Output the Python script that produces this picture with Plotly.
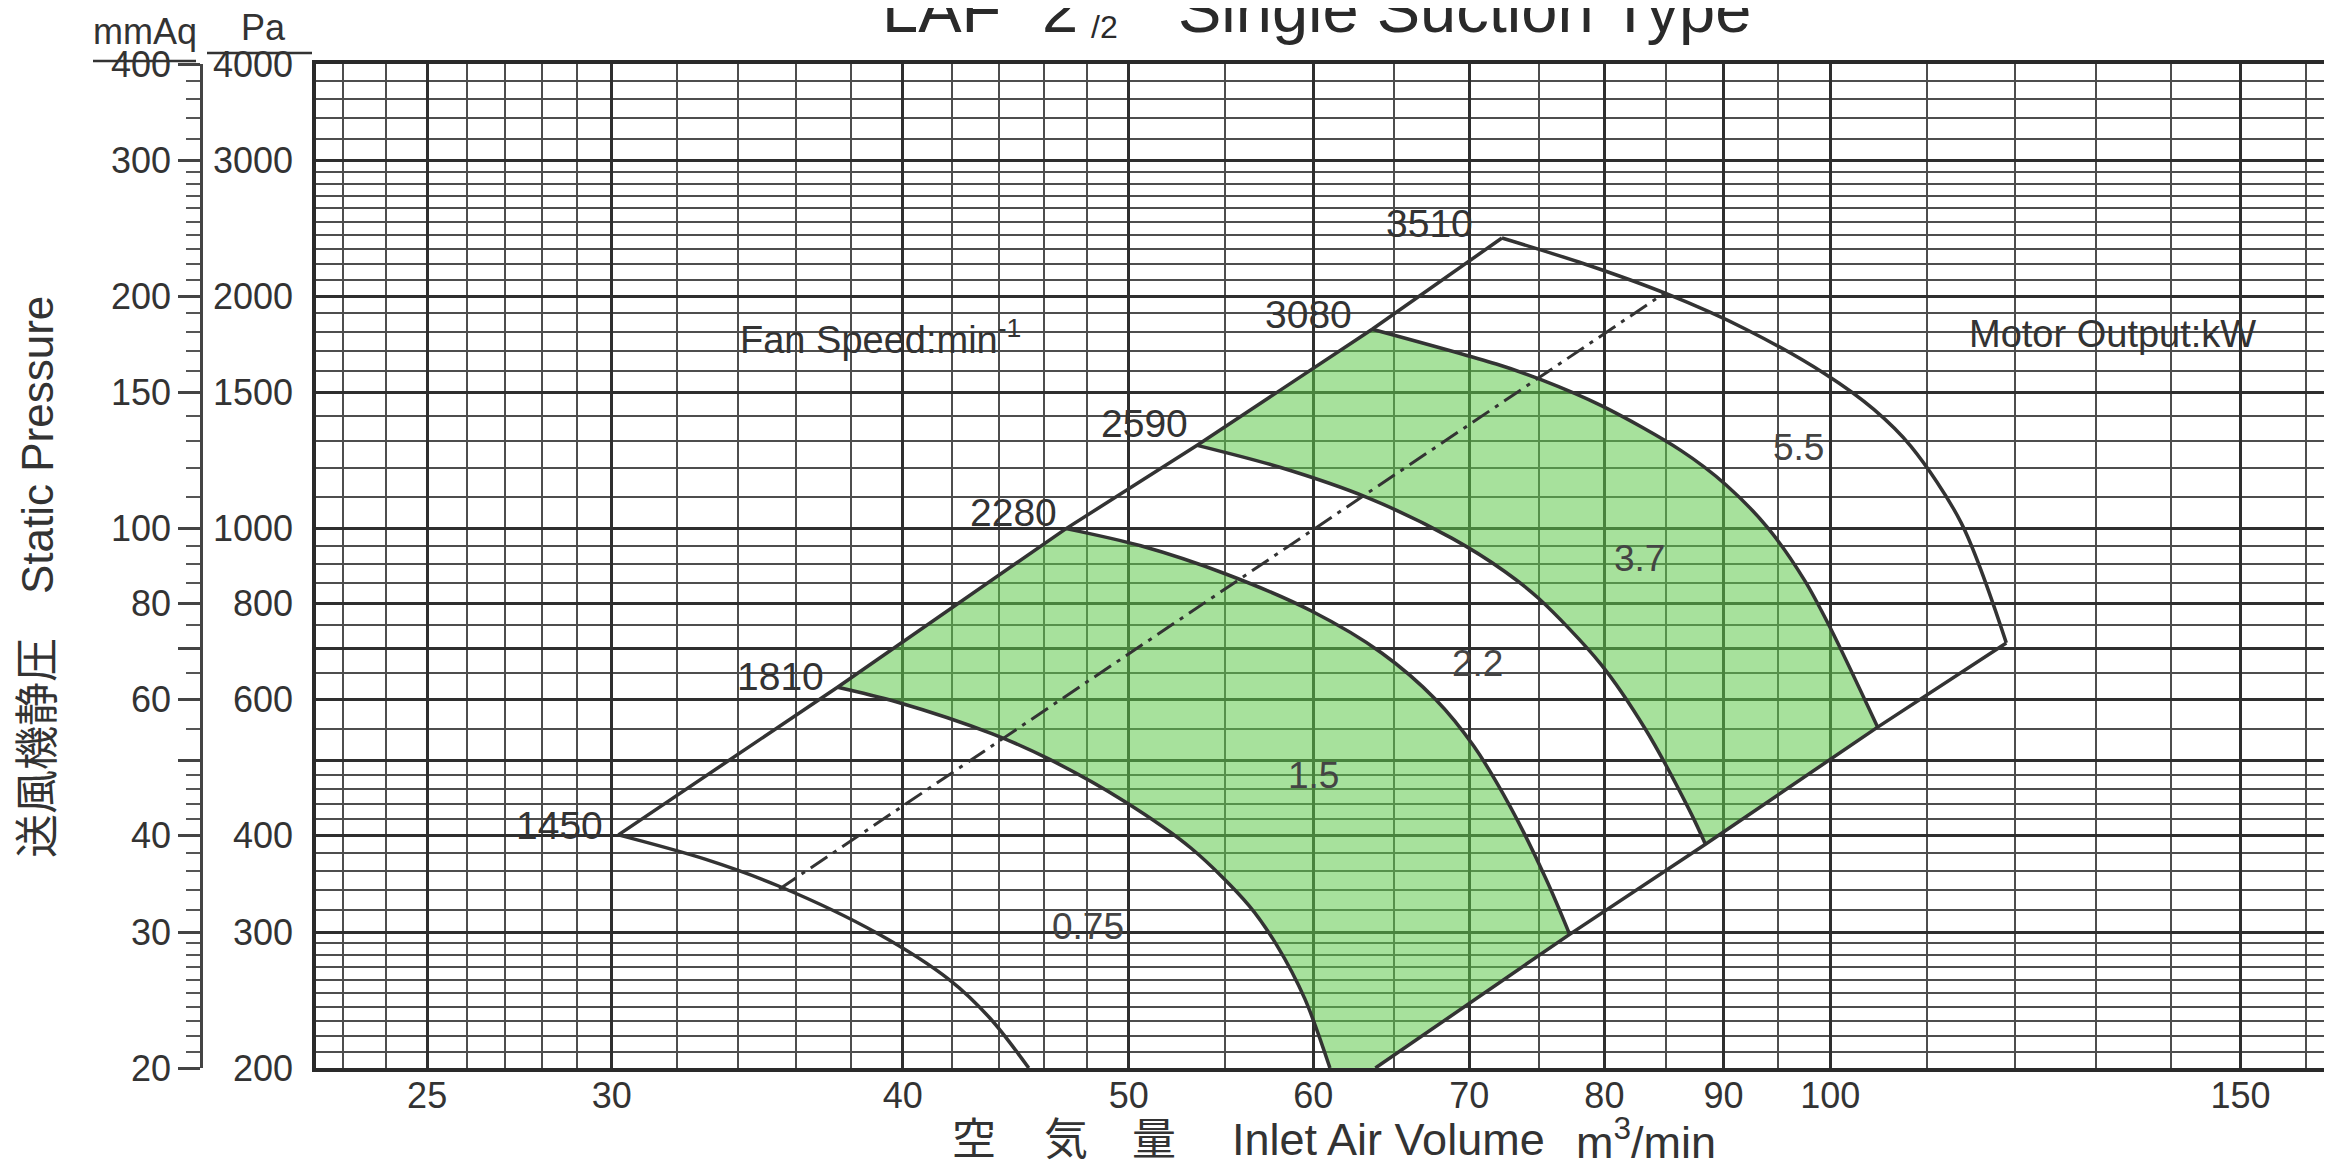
import math
import plotly.graph_objects as go

W, H = 2332, 1176

# ---------------- data ----------------
x_tick_vals = [25, 30, 40, 50, 60, 70, 80, 90, 100, 150]
x_tick_text = ["25", "30", "40", "50", "60", "70", "80", "90", "100", "150"]
x_minor_vals = [23, 24, 26, 27, 28, 29, 32, 34, 36, 38, 42, 44, 46, 48,
                55, 65, 75, 85, 95, 110, 120, 130, 140, 160]

pa_tick_vals = [200, 300, 400, 500, 600, 700, 800, 1000, 1500, 2000, 3000, 4000]
pa_tick_text = ["200", "300", "400", "", "600", "", "800", "1000", "1500", "2000", "3000", "4000"]
pa_minor_vals = [210, 220, 230, 240, 250, 260, 270, 280, 290, 320, 340, 360, 380,
                 420, 440, 460, 480, 550, 650, 750, 850, 900, 950,
                 1100, 1200, 1300, 1400, 1600, 1700, 1800, 1900,
                 2100, 2200, 2300, 2400, 2500, 2600, 2700, 2800, 2900,
                 3200, 3400, 3600, 3800]

mmaq_tick_vals = [20, 30, 40, 50, 60, 70, 80, 100, 150, 200, 300, 400]
mmaq_tick_text = ["20", "30", "40", "", "60", "", "80", "100", "150", "200", "300", "400"]
mmaq_minor_vals = [21, 22, 23, 24, 25, 26, 27, 28, 29, 32, 34, 36, 38,
                   42, 44, 46, 48, 55, 65, 75, 85, 90, 95,
                   110, 120, 130, 140, 160, 170, 180, 190,
                   210, 220, 230, 240, 250, 260, 270, 280, 290,
                   320, 340, 360, 380]

x_range_vals = [22.4, 164.5]
pa_range_vals = [200, 4000]
mmaq_range_vals = [20, 400]

fan_speeds = ["1450", "1810", "2280", "2590", "3080", "3510"]

q_1450 = [30.2, 32.9, 35.4, 39.0, 41.9, 43.6, 45.3]
p_1450 = [401, 373, 344, 299, 260, 232, 200]

q_1810 = [37.5, 39.7, 43.7, 46.2, 49.8, 53.2, 56.3, 57.9, 59.5, 61.0]
p_1810 = [623, 597, 542, 503, 443, 385, 325, 288, 246, 200]

q_2280 = [47.0, 50.6, 55.0, 59.9, 64.2, 67.7, 70.3, 72.9, 75.5, 77.3]
p_2280 = [1000, 950, 874, 782, 690, 601, 523, 436, 352, 298]

q_2590 = [53.5, 58.1, 63.3, 68.8, 72.5, 75.0, 79.7, 83.3, 87.0, 88.4]
p_2590 = [1282, 1200, 1097, 972, 880, 811, 668, 550, 432, 390]

q_3080 = [63.6, 71.9, 75.0, 79.8, 86.3, 90.2, 94.0, 97.5, 100.0, 104.8]
p_3080 = [1813, 1634, 1563, 1442, 1262, 1140, 1003, 857, 744, 553]

q_3510 = [72.3, 78.4, 85.0, 92.0, 99.5, 104.4, 108.3, 113.8, 119.0]
p_3510 = [2380, 2204, 2017, 1813, 1586, 1427, 1278, 1018, 711]

lower_start_q = [63.8]
lower_start_p = [200]

system_q = [35.4, 85.0]
system_p = [341, 2024]

motor_outputs = ["0.75", "1.5", "2.2", "3.7", "5.5"]

# ---------------- layout / style ----------------
curves_q = [q_1450, q_1810, q_2280, q_2590, q_3080, q_3510]
curves_p = [p_1450, p_1810, p_2280, p_2590, p_3080, p_3510]

motor_label_pos = [(48.3, 298), (60.4, 468), (71.0, 652), (83.3, 892), (97.5, 1243)]
speed_label_shift = [(-15, 1), (-14, 3), (-9, 8), (-9, 14), (-20, 7), (-29, 7)]

FONT = "Liberation Sans, Arial, Noto Sans CJK JP, sans-serif"
INK = "#333333"
GRID_MAJOR = "#2e2e2e"
GRID_MINOR = "#4d4d4d"
GREEN = "rgba(95,200,75,0.55)"
LINE_W = 3.5

plot_left, plot_right, plot_top, plot_bottom = 308, 2326, 56, 1060


def px(xp):
    return xp / W


def py(yp):
    return 1 - yp / H


def vy(center_px, size):
    # plotly draws text ~0.2em below the anchor; compensate
    return py(center_px - 0.2 * size)


fig = go.Figure()

# green regions (1.5 kW and 3.7 kW bands)
reg_a_q = [q_1810[0]] + q_2280 + lower_start_q + q_1810[::-1]
reg_a_p = [p_1810[0]] + p_2280 + lower_start_p + p_1810[::-1]
reg_b_q = [q_2590[0]] + q_3080 + q_2590[::-1]
reg_b_p = [p_2590[0]] + p_3080 + p_2590[::-1]
for rq, rp in [(reg_a_q, reg_a_p), (reg_b_q, reg_b_p)]:
    fig.add_trace(go.Scatter(x=rq, y=rp, mode="lines", fill="toself",
                             fillcolor=GREEN, line=dict(width=0),
                             hoverinfo="skip", showlegend=False))

# fan speed curves
for cq, cp in zip(curves_q, curves_p):
    fig.add_trace(go.Scatter(x=cq, y=cp, mode="lines",
                             line=dict(color=INK, width=LINE_W, shape="spline", smoothing=0.9),
                             hoverinfo="skip", showlegend=False))

# upper boundary (through the apex of each curve)
fig.add_trace(go.Scatter(x=[c[0] for c in curves_q], y=[c[0] for c in curves_p], mode="lines",
                         line=dict(color=INK, width=LINE_W), hoverinfo="skip", showlegend=False))
# lower boundary
low_q = lower_start_q + [q_2280[-1], q_2590[-1], q_3080[-1], q_3510[-1]]
low_p = lower_start_p + [p_2280[-1], p_2590[-1], p_3080[-1], p_3510[-1]]
fig.add_trace(go.Scatter(x=low_q, y=low_p, mode="lines",
                         line=dict(color=INK, width=LINE_W), hoverinfo="skip", showlegend=False))
# dash-dot system line
fig.add_trace(go.Scatter(x=system_q, y=system_p, mode="lines",
                         line=dict(color=INK, width=3, dash="20px,7px,4px,7px"),
                         hoverinfo="skip", showlegend=False))
# invisible trace for mmAq axis
fig.add_trace(go.Scatter(x=[x_tick_vals[1], x_tick_vals[1]], y=[mmaq_range_vals[0], mmaq_range_vals[1]],
                         yaxis="y2", mode="markers", marker=dict(opacity=0, size=1),
                         hoverinfo="skip", showlegend=False))

annotations = []
# fan speed labels
for i, name in enumerate(fan_speeds):
    dx, dy = speed_label_shift[i]
    annotations.append(dict(x=math.log10(curves_q[i][0]), y=math.log10(curves_p[i][0]),
                            xref="x", yref="y", text=name, showarrow=False,
                            xanchor="right", yanchor="middle", xshift=dx + 2, yshift=dy + 8,
                            font=dict(size=39, color=INK, family=FONT)))
# motor output labels
for name, (lq, lp) in zip(motor_outputs, motor_label_pos):
    annotations.append(dict(x=math.log10(lq), y=math.log10(lp), xref="x", yref="y",
                            text=name, showarrow=False, xanchor="center", yanchor="middle",
                            xshift=-6, yshift=8,
                            font=dict(size=37, color="#444444", family=FONT)))
annotations.append(dict(x=math.log10(34.4), y=math.log10(1731), xref="x", yref="y",
                        text="Fan Speed:min<sup>-1</sup>", showarrow=False,
                        xanchor="left", yanchor="middle", xshift=-12, yshift=8,
                        font=dict(size=38, color=INK, family=FONT)))
annotations.append(dict(x=math.log10(115.8), y=math.log10(1741), xref="x", yref="y",
                        text="Motor Output:kW", showarrow=False,
                        xanchor="left", yanchor="middle", xshift=-12, yshift=9,
                        font=dict(size=38, color=INK, family=FONT)))

# title pieces (top of the title is cut by the page edge, as in the scan)
for txt, lx in [("LAF", 872), ("2", 1032), ("Single Suction Type", 1168)]:
    annotations.append(dict(x=px(lx), y=vy(14, 65), xref="paper", yref="paper", text=txt,
                            xanchor="left", yanchor="middle", showarrow=False,
                            font=dict(size=65, color="#2a2a2a", family=FONT)))
annotations.append(dict(x=px(1081), y=vy(25, 32), xref="paper", yref="paper", text="/2",
                        xanchor="left", yanchor="middle", showarrow=False,
                        font=dict(size=32, color="#2a2a2a", family=FONT)))
annotations.append(dict(x=px(1070), y=py(-40), xref="paper", yref="paper", text="1",
                        xanchor="left", yanchor="middle", showarrow=False,
                        font=dict(size=32, color="#2a2a2a", family=FONT)))

# axis headers
annotations.append(dict(x=px(137), y=vy(31, 36), xref="paper", yref="paper", text="mmAq",
                        showarrow=False, xanchor="center", yanchor="middle",
                        font=dict(size=36, color=INK, family=FONT)))
annotations.append(dict(x=px(255), y=vy(27, 36), xref="paper", yref="paper", text="Pa",
                        showarrow=False, xanchor="center", yanchor="middle",
                        font=dict(size=36, color=INK, family=FONT)))

# axis titles
annotations.append(dict(x=px(29), y=py(569), xref="paper", yref="paper",
                        text="送風機静圧　Static Pressure", textangle=-90,
                        showarrow=False, xanchor="center", yanchor="middle",
                        font=dict(size=44, color=INK, family=FONT)))
for ch, cx in [("空", 966), ("気", 1058), ("量", 1146)]:
    annotations.append(dict(x=px(cx), y=vy(1140, 44), xref="paper", yref="paper", text=ch,
                            showarrow=False, xanchor="center", yanchor="middle",
                            font=dict(size=44, color=INK, family=FONT)))
annotations.append(dict(x=px(1222), y=vy(1140, 45), xref="paper", yref="paper",
                        text="Inlet Air Volume", showarrow=False, xanchor="left", yanchor="middle",
                        font=dict(size=45, color=INK, family=FONT)))
annotations.append(dict(x=px(1566), y=vy(1140, 45), xref="paper", yref="paper",
                        text="m<sup>3</sup>/min", showarrow=False, xanchor="left", yanchor="middle",
                        font=dict(size=45, color=INK, family=FONT)))

shapes = [
    dict(type="line", xref="paper", yref="paper", x0=px(85), x1=px(188), y0=py(53), y1=py(53),
         line=dict(color=INK, width=2.5)),
    dict(type="line", xref="paper", yref="paper", x0=px(199), x1=px(304), y0=py(45), y1=py(45),
         line=dict(color=INK, width=2.5)),
]

tickfont = dict(size=36, color=INK, family=FONT)

fig.update_layout(
    width=W, height=H,
    margin=dict(l=0, r=0, t=0, b=0),
    paper_bgcolor="white", plot_bgcolor="white",
    showlegend=False, hovermode=False,
    annotations=annotations, shapes=shapes,
    xaxis=dict(
        type="log", domain=[px(plot_left), px(plot_right)],
        range=[math.log10(x_range_vals[0]), math.log10(x_range_vals[1])],
        tickmode="array", tickvals=x_tick_vals, ticktext=x_tick_text,
        showgrid=True, gridcolor=GRID_MAJOR, gridwidth=3.2,
        minor=dict(tickmode="array", tickvals=x_minor_vals, showgrid=True,
                   gridcolor=GRID_MINOR, gridwidth=2, ticks=""),
        showline=True, linecolor="#2a2a2a", linewidth=3.5, mirror=True,
        ticks="", tickfont=tickfont, ticklabelstandoff=-7, automargin=False,
        fixedrange=True,
    ),
    yaxis=dict(
        type="log", domain=[py(plot_bottom), py(plot_top)],
        range=[math.log10(pa_range_vals[0]), math.log10(pa_range_vals[1])],
        tickmode="array", tickvals=pa_tick_vals, ticktext=pa_tick_text,
        showgrid=True, gridcolor=GRID_MAJOR, gridwidth=3.2,
        minor=dict(tickmode="array", tickvals=pa_minor_vals, showgrid=True,
                   gridcolor=GRID_MINOR, gridwidth=2, ticks=""),
        showline=True, linecolor="#2a2a2a", linewidth=3.5, mirror=True,
        ticks="", tickfont=tickfont, ticklabelstandoff=12, automargin=False,
        fixedrange=True,
    ),
    yaxis2=dict(
        type="log", overlaying="y", anchor="free", position=px(193), side="left",
        range=[math.log10(mmaq_range_vals[0]), math.log10(mmaq_range_vals[1])],
        tickmode="array", tickvals=mmaq_tick_vals, ticktext=mmaq_tick_text,
        showgrid=False, zeroline=False,
        showline=True, linecolor="#444444", linewidth=2.5,
        ticks="outside", ticklen=22, tickwidth=2.5, tickcolor="#444444",
        minor=dict(tickmode="array", tickvals=mmaq_minor_vals, ticks="outside",
                   ticklen=14, tickwidth=2, tickcolor="#555555", showgrid=False),
        tickfont=tickfont, automargin=False, fixedrange=True,
    ),
)

fig.write_html("out.html", config={"displayModeBar": False})
